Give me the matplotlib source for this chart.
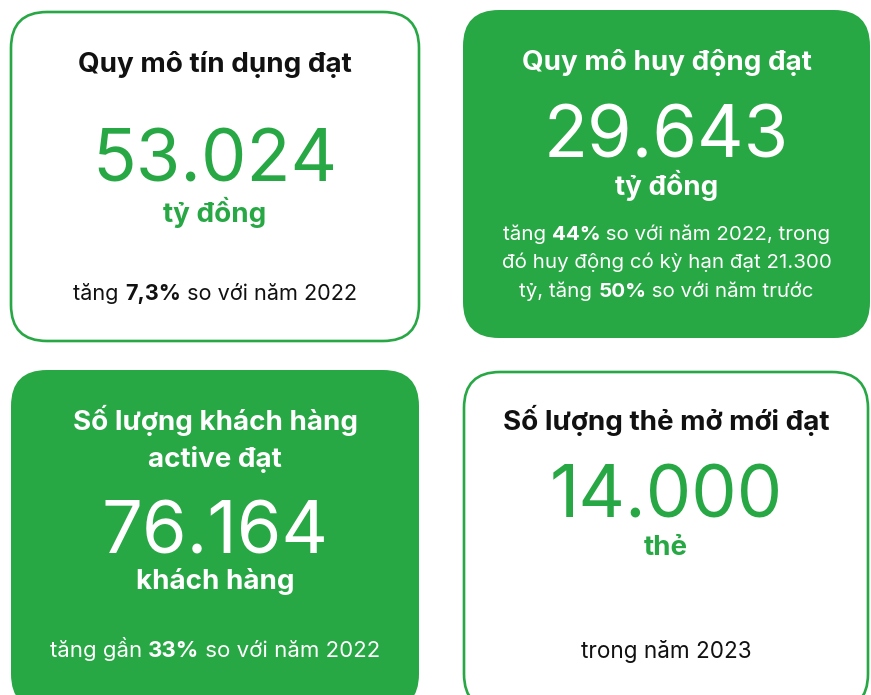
import matplotlib.pyplot as plt
from matplotlib.patches import FancyBboxPatch

plt.rcParams['font.family'] = ['Inter', 'DejaVu Sans']

GREEN = "#28a745"
DARK = "#111111"

# card content
titles = [["Quy mô tín dụng đạt"],
          ["Quy mô huy động đạt"],
          ["Số lượng khách hàng", "active đạt"],
          ["Số lượng thẻ mở mới đạt"]]
values = ["53.024", "29.643", "76.164", "14.000"]
units = ["tỷ đồng", "tỷ đồng", "khách hàng", "thẻ"]
# notes: list of lines, each line a list of (text, bold?) pieces
notes = [
    [[("tăng ", False), ("7,3%", True), (" so với năm 2022", False)]],
    [[("tăng ", False), ("44%", True), (" so với năm 2022, trong", False)],
     [("đó huy động có kỳ hạn đạt 21.300", False)],
     [("tỷ, tăng ", False), ("50%", True), (" so với năm trước", False)]],
    [[("tăng gần ", False), ("33%", True), (" so với năm 2022", False)]],
    [[("trong năm 2023", False)]],
]
filled = [False, True, True, False]

# layout (pixels, baselines)
boxes = [(10, 11, 410, 331), (463, 10, 407, 328), (11, 370, 408, 340), (463, 371, 406, 340)]
title_y = [[72], [70], [430, 467], [430]]
value_y = [182, 157, 553, 517]
unit_y = [222, 195, 589, 555]
note_y = [[300], [240, 268, 297], [657], [658]]
note_size = [15.6, 14.8, 16, 16.2]

fig = plt.figure(figsize=(8.71, 6.95), dpi=100)
ax = fig.add_axes([0, 0, 1, 1])
ax.set_xlim(0, 871)
ax.set_ylim(695, 0)
ax.axis('off')
renderer = fig.canvas.get_renderer()


def rich_line(x, y, parts, size, color):
    texts = []
    widths = []
    for s, b in parts:
        t = ax.text(0, y, s, fontsize=size, fontweight='bold' if b else 'normal',
                    color=color, ha='left', va='baseline')
        widths.append(t.get_window_extent(renderer=renderer).width)
        texts.append(t)
    start = x - sum(widths) / 2
    for t, w in zip(texts, widths):
        t.set_x(start)
        start += w


for i in range(4):
    x0, y0, w, h = boxes[i]
    if filled[i]:
        patch = FancyBboxPatch((x0, y0), w, h, boxstyle="round,pad=0,rounding_size=36",
                               facecolor=GREEN, edgecolor='none')
        head_c, num_c, body_c = 'white', 'white', 'white'
    else:
        patch = FancyBboxPatch((x0 + 1, y0 + 1), w - 2, h - 2, boxstyle="round,pad=0,rounding_size=36",
                               facecolor='white', edgecolor=GREEN, linewidth=1.9)
        head_c, num_c, body_c = DARK, GREEN, DARK
    ax.add_patch(patch)
    cx = x0 + w / 2
    for line, yy in zip(titles[i], title_y[i]):
        ax.text(cx, yy, line, fontsize=20, fontweight='bold', color=head_c, ha='center', va='baseline')
    ax.text(cx, value_y[i], values[i], fontsize=52, fontweight='normal', color=num_c,
            ha='center', va='baseline')
    ax.text(cx, unit_y[i], units[i], fontsize=20, fontweight='bold', color=num_c,
            ha='center', va='baseline')
    for parts, yy in zip(notes[i], note_y[i]):
        rich_line(cx, yy, parts, note_size[i], body_c)

fig.savefig("out.png", dpi=100)
